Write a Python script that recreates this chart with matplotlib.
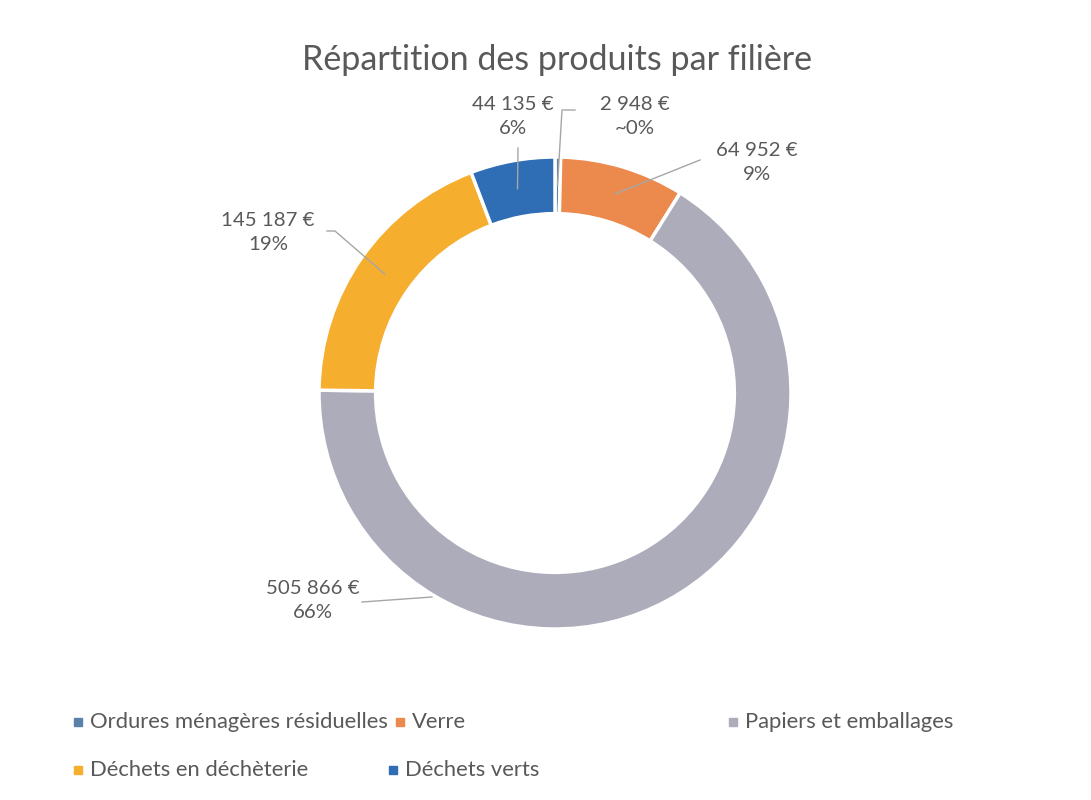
#!/usr/bin/env python3
import numpy as np
import matplotlib
matplotlib.use("Agg")
import matplotlib.pyplot as plt

categories = [
    "Ordures ménagères résiduelles",
    "Verre",
    "Papiers et emballages",
    "Déchets en déchèterie",
    "Déchets verts",
]
amounts = [2948, 64952, 505866, 145187, 44135]
pct_labels = ["~0%", "9%", "66%", "19%", "6%"]
colors = ["#5B80AA", "#EC8A4E", "#ADACBA", "#F5AE2E", "#2F6DB5"]

plt.rcParams["font.family"] = ["Lato", "DejaVu Sans"]

W, H = 1091, 800
CX, CY, R = 555, 393, 236  # pie centre / radius in pixels
LIM = 1.6

fig = plt.figure(figsize=(W / 100, H / 100), dpi=100)
side = R * 2 * LIM
ax = fig.add_axes([(CX - side / 2) / W, (H - CY - side / 2) / H, side / W, side / H])

wedges, _ = ax.pie(
    amounts,
    colors=colors,
    startangle=90,
    counterclock=False,
    radius=1,
    wedgeprops=dict(width=0.24, edgecolor="white", linewidth=2.5),
)
ax.set_xlim(-LIM, LIM)
ax.set_ylim(-LIM, LIM)
ax.set_aspect("equal")
ax.axis("off")


def px(x, y):
    return (x - CX) / R, (CY - y) / R


def fmt(v):
    return f"{v:,}".replace(",", " ") + " €"


# label layout in pixels: text centre, leader elbow points
layout = [
    ((635, 117), [(575, 110), (562, 110)]),
    ((757, 162), [(700, 160)]),
    ((313, 601), [(362, 602)]),
    ((268, 232), [(327, 231), (335, 231)]),
    ((513, 117), [(518, 148)]),
]

line_color = "#A6A6A6"
for i, (w, (tpos, elbows)) in enumerate(zip(wedges, layout)):
    if i == 2:
        end = px(432, 597)
    else:
        th = np.deg2rad((w.theta1 + w.theta2) / 2)
        end = (0.88 * np.cos(th), 0.88 * np.sin(th))
    pts = [px(*p) for p in elbows] + [end]
    xs, ys = zip(*pts)
    ax.plot(xs, ys, color=line_color, lw=1.0, zorder=3)
    tx, ty = px(*tpos)
    ax.text(tx, ty, f"{fmt(amounts[i])}\n{pct_labels[i]}", ha="center", va="center",
            fontsize=14.7, color="#595959", linespacing=1.5)

fig.text(557 / W, 1 - 60 / H, "Répartition des produits par filière", ha="center", va="center",
         fontsize=24.5, color="#595959")

# legend drawn manually to match the original spacing
legend_pos = [(78, 722), (400, 722), (733, 722), (78, 770), (393, 770)]
for (lx, ly), name, c in zip(legend_pos, categories, colors):
    fig.patches.append(plt.Rectangle(((lx - 4) / W, 1 - (ly + 4) / H), 8 / W, 8 / H,
                                     transform=fig.transFigure, color=c))
    fig.text((lx + 12) / W, 1 - ly / H, name, ha="left", va="center",
             fontsize=15.8, color="#595959")

fig.savefig("out.png", dpi=100, facecolor="white")
